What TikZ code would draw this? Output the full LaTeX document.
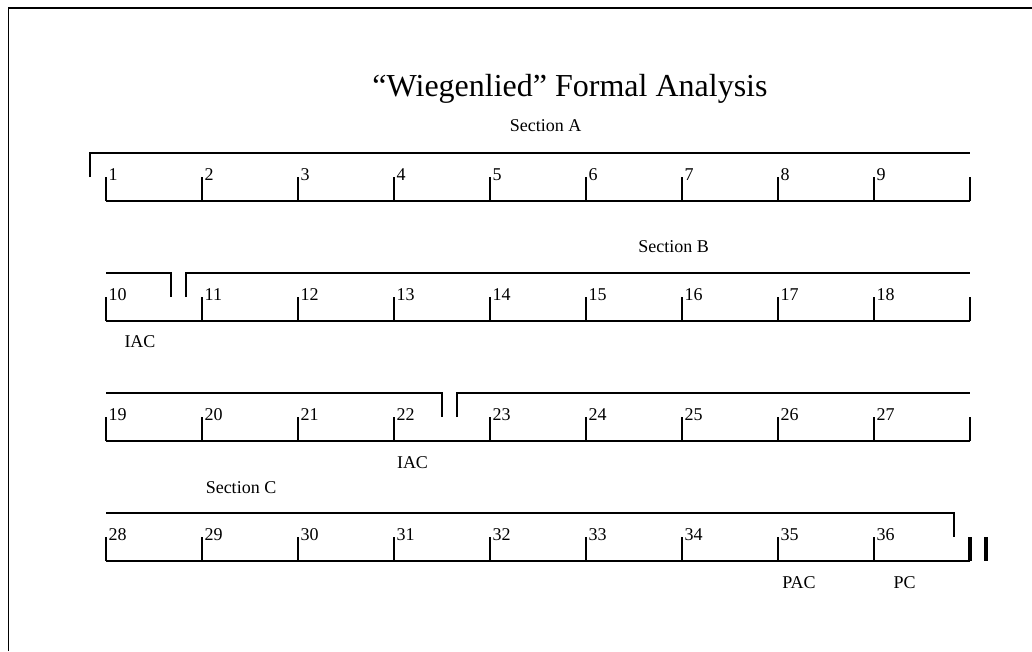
\documentclass[tikz,border=0pt]{standalone}
\usepackage{fontspec}
\setmainfont{Liberation Serif}
\begin{document}
\begin{tikzpicture}[x=1pt,y=-1pt,
  bar/.style={line width=1.6pt},
  thickbar/.style={line width=4pt},
  frame/.style={line width=1.6pt},
  lbl/.style={font=\fontsize{18}{20}\selectfont, inner sep=0pt, anchor=base},
  num/.style={font=\fontsize{18}{20}\selectfont, inner sep=0pt, anchor=base west},
  title/.style={font=\fontsize{32}{36}\selectfont, inner sep=0pt, anchor=base}]
\useasboundingbox (0,0) rectangle (1032,651);
% page frame
\draw[frame] (8.5,651) -- (8.5,7.8) -- (1032,7.8);
% title and section labels
\node[title] (title) at (570,96) {“Wiegenlied” Formal Analysis};
\node[lbl] (secA) at (545.5,131) {Section A};
\node[lbl] (secB) at (673.5,252) {Section B};
\node[lbl] (secC) at (241,493) {Section C};
\node[lbl] (iac1) at (140,347) {IAC};
\node[lbl] (iac2) at (412.5,468) {IAC};
\node[lbl] (pac) at (799,588) {PAC};
\node[lbl] (pc) at (904.5,588) {PC};
% measure rows
\foreach \r in {0,1,2,3}{
  \pgfmathsetmacro{\yb}{201+120*\r}
  \pgfmathsetmacro{\yt}{177+120*\r}
  \draw[bar] (106,\yb) -- (970,\yb);
  \foreach \k in {0,...,8}{
    \pgfmathtruncatemacro{\n}{9*\r+\k+1}
    \draw[bar] (106+96*\k,\yt) -- (106+96*\k,\yb);
    \node[num] (m\n) at (108.5+96*\k,\yb-21) {\n};
  }
}
\draw[bar] (970,177) -- (970,201);
\draw[bar] (970,297) -- (970,321);
\draw[bar] (970,417) -- (970,441);
% phrase brackets
\draw[bar] (90,177) -- (90,153) -- (970,153);
\draw[bar] (106,273) -- (171,273) -- (171,297);
\draw[bar] (186,297) -- (186,273) -- (970,273);
\draw[bar] (106,393) -- (442,393) -- (442,417);
\draw[bar] (457,417) -- (457,393) -- (970,393);
\draw[bar] (106,513) -- (954,513) -- (954,537);
% final double bar
\draw[thickbar] (970,537) -- (970,561);
\draw[thickbar] (986,537) -- (986,561);
\end{tikzpicture}
\end{document}
